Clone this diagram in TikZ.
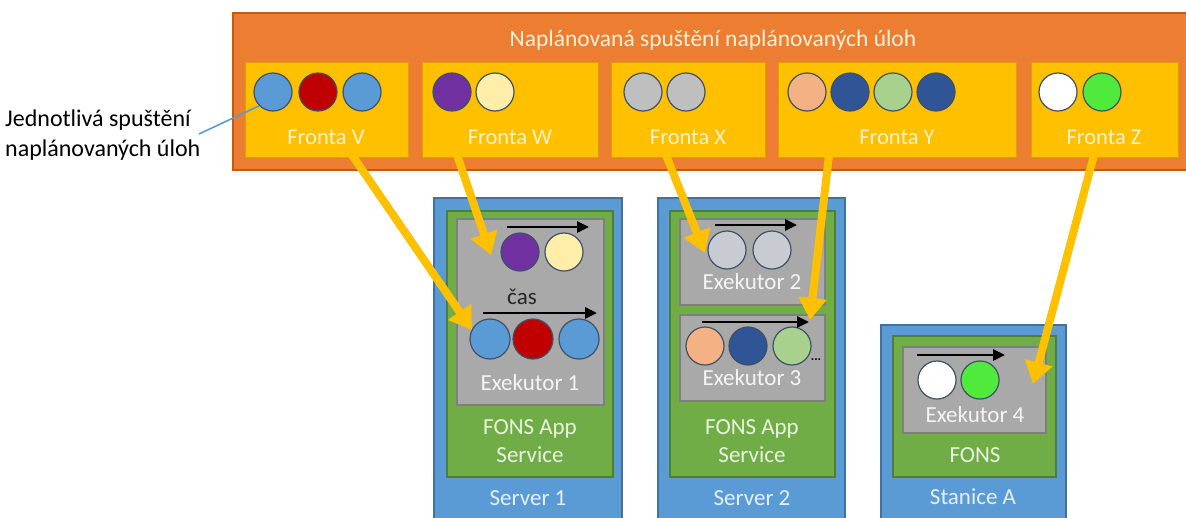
\documentclass[tikz,border=0pt]{standalone}
\usepackage{fontspec}
\setmainfont{Carlito}
\usetikzlibrary{arrows.meta,calc}
\definecolor{corange}{HTML}{ED7D31}
\definecolor{corangeb}{HTML}{C55A11}
\definecolor{cyellow}{HTML}{FFC000}
\definecolor{cyellowb}{HTML}{D9A300}
\definecolor{cblue}{HTML}{5B9BD5}
\definecolor{cblueb}{HTML}{41719C}
\definecolor{cgreen}{HTML}{70AD47}
\definecolor{cgreenb}{HTML}{507E32}
\definecolor{cgray}{HTML}{A9A9A9}
\definecolor{cgrayb}{HTML}{7F7F7F}
\definecolor{ctitle}{HTML}{FFF0D8}
\definecolor{cfronta}{HTML}{FFF2CC}
\definecolor{cexe}{HTML}{F4F4F4}
\definecolor{cfons}{HTML}{E8F4DE}
\definecolor{cserv}{HTML}{E4EFFA}
\definecolor{cring}{HTML}{3E5166}
\definecolor{jblue}{HTML}{5B9BD5}
\definecolor{jred}{HTML}{C00000}
\definecolor{jpurple}{HTML}{7030A0}
\definecolor{jcream}{HTML}{FFEDAA}
\definecolor{jgrey}{HTML}{BFBFBF}
\definecolor{jgreyl}{HTML}{C8CCD2}
\definecolor{jpeach}{HTML}{F4B183}
\definecolor{jdblue}{HTML}{2F5597}
\definecolor{jlgreen}{HTML}{A9D18E}
\definecolor{jwhite}{HTML}{FFFFFF}
\definecolor{jgreen}{HTML}{4FEA3C}
\tikzset{
  rbox/.style={rectangle, anchor=north west, inner sep=0pt, outer sep=0pt, line width=1.2pt},
  orangebox/.style={rbox, fill=corange, draw=corangeb},
  fbox/.style={rbox, fill=cyellow, draw=cyellowb, line width=0.6pt},
  bluebox/.style={rbox, fill=cblue, draw=cblueb},
  greenbox/.style={rbox, fill=cgreen, draw=cgreenb},
  graybox/.style={rbox, fill=cgray, draw=cgrayb},
  job/.style={circle, inner sep=0pt, minimum size=38pt, draw=cring, line width=1.2pt},
  bigjob/.style={job, minimum size=40pt},
  lbl/.style={inner sep=0pt, font=\fontsize{23}{28}\selectfont, align=center},
  flbl/.style={lbl, text=cfronta, font=\fontsize{22.5}{26}\selectfont},
  yarrow/.style={draw=cyellow, line width=8pt, -{Triangle[length=22pt,width=27pt]}},
  tarrow/.style={draw=black, line width=2.8pt, -{Triangle[length=12pt,width=11pt]}},
}
\begin{document}
\begin{tikzpicture}[x=1pt,y=-1pt]
\useasboundingbox (0,0) rectangle (1186,517);
\clip (0,0) rectangle (1186,517);
% top bar
\node[orangebox, minimum width=960pt, minimum height=157pt] (bar) at (233,13) {};
\node[lbl, text=ctitle, font=\fontsize{23.5}{28}\selectfont] (title) at (713,40) {Naplánovaná spuštění naplánovaných úloh};
% queues
\node[fbox, minimum width=163pt, minimum height=95pt] (fv) at (245,62) {};
\node[fbox, minimum width=176pt, minimum height=95pt] (fw) at (422,62) {};
\node[fbox, minimum width=154pt, minimum height=95pt] (fx) at (611,62) {};
\node[fbox, minimum width=238pt, minimum height=95pt] (fy) at (778,62) {};
\node[fbox, minimum width=147pt, minimum height=95pt] (fz) at (1031,62) {};
\node[flbl] (tv) at (326,137) {Fronta V};
\node[flbl] (tw) at (510,137) {Fronta W};
\node[flbl] (tx) at (688,137) {Fronta X};
\node[flbl] (ty) at (897,137) {Fronta Y};
\node[flbl] (tz) at (1104,137) {Fronta Z};
\node[job, fill=jblue] (v1) at (273,92) {};
\node[job, fill=jred] (v2) at (318,92) {};
\node[job, fill=jblue] (v3) at (362,92) {};
\node[job, fill=jpurple] (w1) at (452,92) {};
\node[job, fill=jcream] (w2) at (495,92) {};
\node[job, fill=jgrey] (x1) at (643,92) {};
\node[job, fill=jgrey] (x2) at (686,92) {};
\node[job, fill=jpeach] (y1) at (807,92) {};
\node[job, fill=jdblue] (y2) at (850,92) {};
\node[job, fill=jlgreen] (y3) at (893,92) {};
\node[job, fill=jdblue] (y4) at (936,92) {};
\node[job, fill=jwhite] (z1) at (1058,92) {};
\node[job, fill=jgreen] (z2) at (1102,92) {};
% annotation
\node[inner sep=0pt, anchor=west, align=left, font=\fontsize{24}{30}\selectfont] (ann) at (5,135) {Jednotlivá spuštění\\naplánovaných úloh};
\coordinate (annend) at (199,134);
\draw[cblue, line width=1.6pt] (annend) -- (v1.south west);
% Server 1
\node[bluebox, minimum width=188pt, minimum height=340pt] (s1) at (434,198) {};
\node[greenbox, minimum width=166pt, minimum height=266pt] (g1) at (447,211) {};
\node[graybox, minimum width=147pt, minimum height=186pt] (e1) at (457,219) {};
\node[job, fill=jpurple] (e1a) at (520,252) {};
\node[job, fill=jcream] (e1b) at (564,252) {};
\node[lbl, text=black!85] (cas) at (522,297) {čas};
\node[bigjob, fill=jblue] (e1c) at (490,339) {};
\node[bigjob, fill=jred] (e1d) at (533,339) {};
\node[bigjob, fill=jblue] (e1e) at (579,339) {};
\node[lbl, text=cexe] (te1) at (530,383) {Exekutor 1};
\node[lbl, text=cfons] (tg1) at (530,441) {FONS App\\Service};
\node[lbl, text=cserv] (ts1) at (528,498) {Server 1};
\coordinate (t1a) at (507,227); \coordinate (t1b) at (589,227);
\coordinate (t2a) at (483,313); \coordinate (t2b) at (597,313);
\draw[tarrow] (t1a) -- (t1b);
\draw[tarrow] (t2a) -- (t2b);
% Server 2
\node[bluebox, minimum width=187pt, minimum height=340pt] (s2) at (658,198) {};
\node[greenbox, minimum width=165pt, minimum height=266pt] (g2) at (670,211) {};
\node[graybox, minimum width=145pt, minimum height=86pt] (e2) at (680,219) {};
\node[graybox, minimum width=145pt, minimum height=86pt] (e3) at (680,315) {};
\node[job, fill=jgreyl] (e2a) at (727,250) {};
\node[job, fill=jgreyl] (e2b) at (772,250) {};
\node[lbl, text=cexe] (te2) at (752,282) {Exekutor 2};
\node[job, fill=jpeach] (e3a) at (705,346) {};
\node[job, fill=jdblue] (e3b) at (748,346) {};
\node[job, fill=jlgreen] (e3c) at (792,346) {};
\node[inner sep=0pt, font=\bfseries\fontsize{13}{13}\selectfont] (dots) at (816,360) {...};
\node[lbl, text=cexe] (te3) at (752,378) {Exekutor 3};
\node[lbl, text=cfons] (tg2) at (752,441) {FONS App\\Service};
\node[lbl, text=cserv] (ts2) at (752,498) {Server 2};
\coordinate (t3a) at (715,225); \coordinate (t3b) at (797,225);
\coordinate (t4a) at (702,322); \coordinate (t4b) at (809,322);
\draw[tarrow] (t3a) -- (t3b);
\draw[tarrow] (t4a) -- (t4b);
% Stanice A
\node[bluebox, minimum width=185pt, minimum height=210pt] (s3) at (881,325) {};
\node[greenbox, minimum width=163pt, minimum height=141pt] (g3) at (893,336) {};
\node[graybox, minimum width=143pt, minimum height=86pt] (e4) at (903,347) {};
\node[job, fill=jwhite] (e4a) at (937,380) {};
\node[job, fill=jgreen] (e4b) at (980,380) {};
\node[lbl, text=cexe] (te4) at (975,415) {Exekutor 4};
\node[lbl, text=cfons] (tg3) at (975,455) {FONS};
\node[lbl, text=cserv] (ts3) at (973,497) {Stanice A};
\coordinate (t5a) at (917,355); \coordinate (t5b) at (1005,355);
\draw[tarrow] (t5a) -- (t5b);
% yellow arrows
\coordinate (a1s) at (352,155); \coordinate (a1e) at (472,330);
\coordinate (a2s) at (457,155); \coordinate (a2e) at (491,255);
\coordinate (a3s) at (666,155); \coordinate (a3e) at (705,253);
\coordinate (a4s) at (829,155); \coordinate (a4e) at (810,320);
\coordinate (a5s) at (1094,155); \coordinate (a5e) at (1033,384);
\draw[yarrow] (a1s) -- (a1e);
\draw[yarrow] (a2s) -- (a2e);
\draw[yarrow] (a3s) -- (a3e);
\draw[yarrow] (a4s) -- (a4e);
\draw[yarrow] (a5s) -- (a5e);
\end{tikzpicture}
\end{document}
